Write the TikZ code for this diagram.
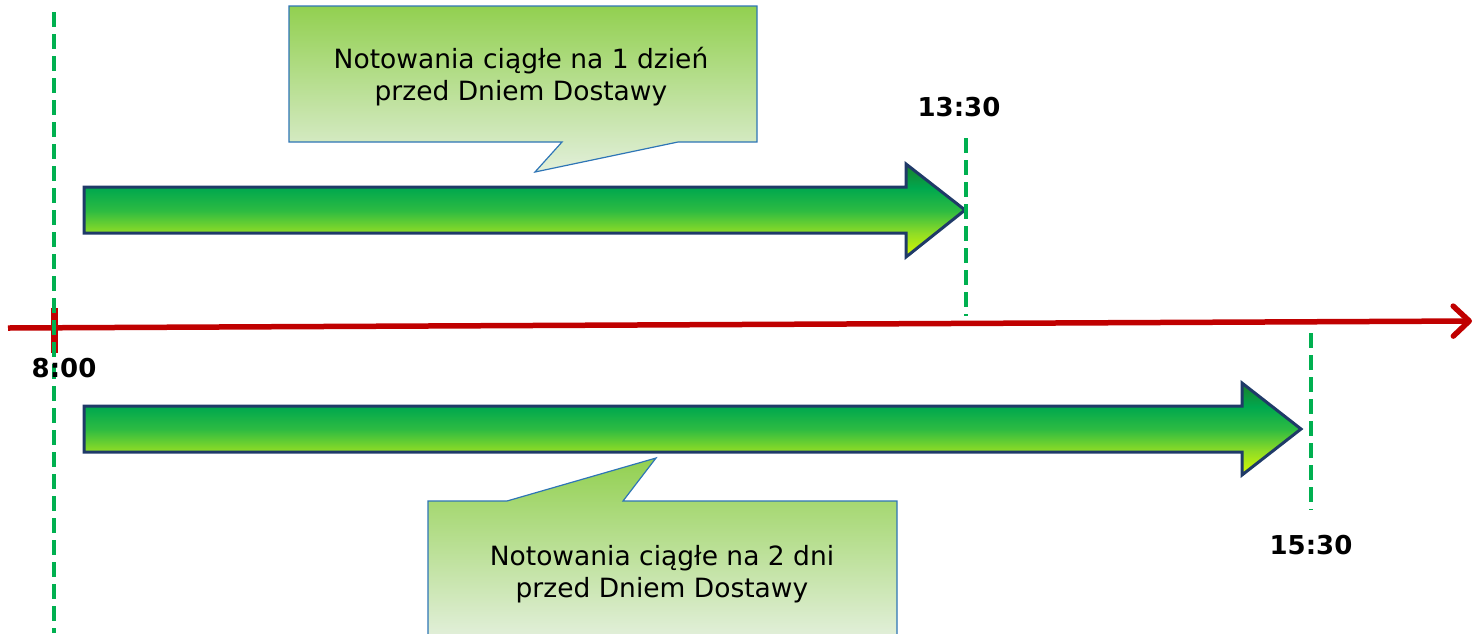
\documentclass[tikz,border=0pt]{standalone}
\usepackage{fontspec}
\setmainfont{DejaVu Sans}
\usetikzlibrary{arrows.meta}
\definecolor{axisred}{HTML}{C00000}
\definecolor{markgreen}{HTML}{00B050}
\definecolor{arrowline}{HTML}{1F3A68}
\definecolor{calloutline}{HTML}{2E75B6}
\definecolor{callouttop}{HTML}{92D050}
\definecolor{calloutbottom}{HTML}{E2EFDA}
\definecolor{shadeA}{HTML}{D9FA00}
\definecolor{shadeB}{HTML}{8EDC26}
\definecolor{shadeC}{HTML}{2DBB42}
\definecolor{shadeD}{HTML}{00A84E}
\definecolor{shadeE}{HTML}{1A7F2C}
\pgfdeclareverticalshading{arrowshade}{100bp}{color(0bp)=(shadeA); color(25bp)=(shadeA);
  color(38bp)=(shadeB); color(50bp)=(shadeC); color(62bp)=(shadeD); color(75bp)=(shadeE); color(100bp)=(shadeE)}

\begin{document}
\begin{tikzpicture}[x=1pt,y=-1pt,
    bigarrow/.style={draw=arrowline,line width=3pt,line join=miter,shading=arrowshade},
    callout/.style={draw=calloutline,line width=1.2pt,top color=callouttop,bottom color=calloutbottom},
    calltext/.style={align=center,font=\fontsize{26.5pt}{32pt}\selectfont},
    timelabel/.style={font=\bfseries\fontsize{26pt}{31pt}\selectfont},
    marker/.style={draw=markgreen,line width=4.5pt,dash pattern=on 15pt off 7pt}]
            \useasboundingbox (0,0) rectangle (1477,633);
            \clip (0,0) rectangle (1477,633);
            % callouts
            \path[callout] (289,6) -- (757,6) -- (757,142) -- (678,142) -- (535,172) -- (562,142) -- (289,142) -- cycle;
            \node[calltext] (one) at (521,77) {Notowania ciągłe na 1 dzień\\przed Dniem Dostawy};
            \path[callout] (428,501) -- (507,501) -- (656,458) -- (623,501) -- (897,501) -- (897,637) -- (428,637) -- cycle;
            \node[calltext] (two) at (662,574) {Notowania ciągłe na 2 dni\\przed Dniem Dostawy};
            % arrows
            \path[bigarrow] (84,187) -- (906,187) -- (906,164) -- (965,210) -- (906,257) -- (906,233) -- (84,233) -- cycle;
            \path[bigarrow] (84,406) -- (1242,406) -- (1242,383) -- (1301,429) -- (1242,475) -- (1242,452) -- (84,452) -- cycle;
            % time axis
            \coordinate (start) at (8,328);
            \coordinate (end) at (1472,321);
            \coordinate (ticktop) at (54,308);
            \coordinate (tickbot) at (54,353);
            \draw[axisred,line width=5.5pt,-{Straight Barb[length=16pt,width=30pt,round]}] (start) -- (end);
            \draw[axisred,line width=7pt] (ticktop) -- (tickbot);
            % markers
            \coordinate (m1a) at (54,12);
            \coordinate (m1b) at (54,633);
            \coordinate (m2a) at (966,138);
            \coordinate (m2b) at (966,316);
            \coordinate (m3a) at (1311,333);
            \coordinate (m3b) at (1311,510);
            \draw[marker] (m1a) -- (m1b) (m2a) -- (m2b) (m3a) -- (m3b);
            \node[timelabel] (t1) at (64,368) {8:00};
            \node[timelabel] (t2) at (959,107) {13:30};
            \node[timelabel] (t3) at (1311,545) {15:30};
        \end{tikzpicture}
\end{document}
